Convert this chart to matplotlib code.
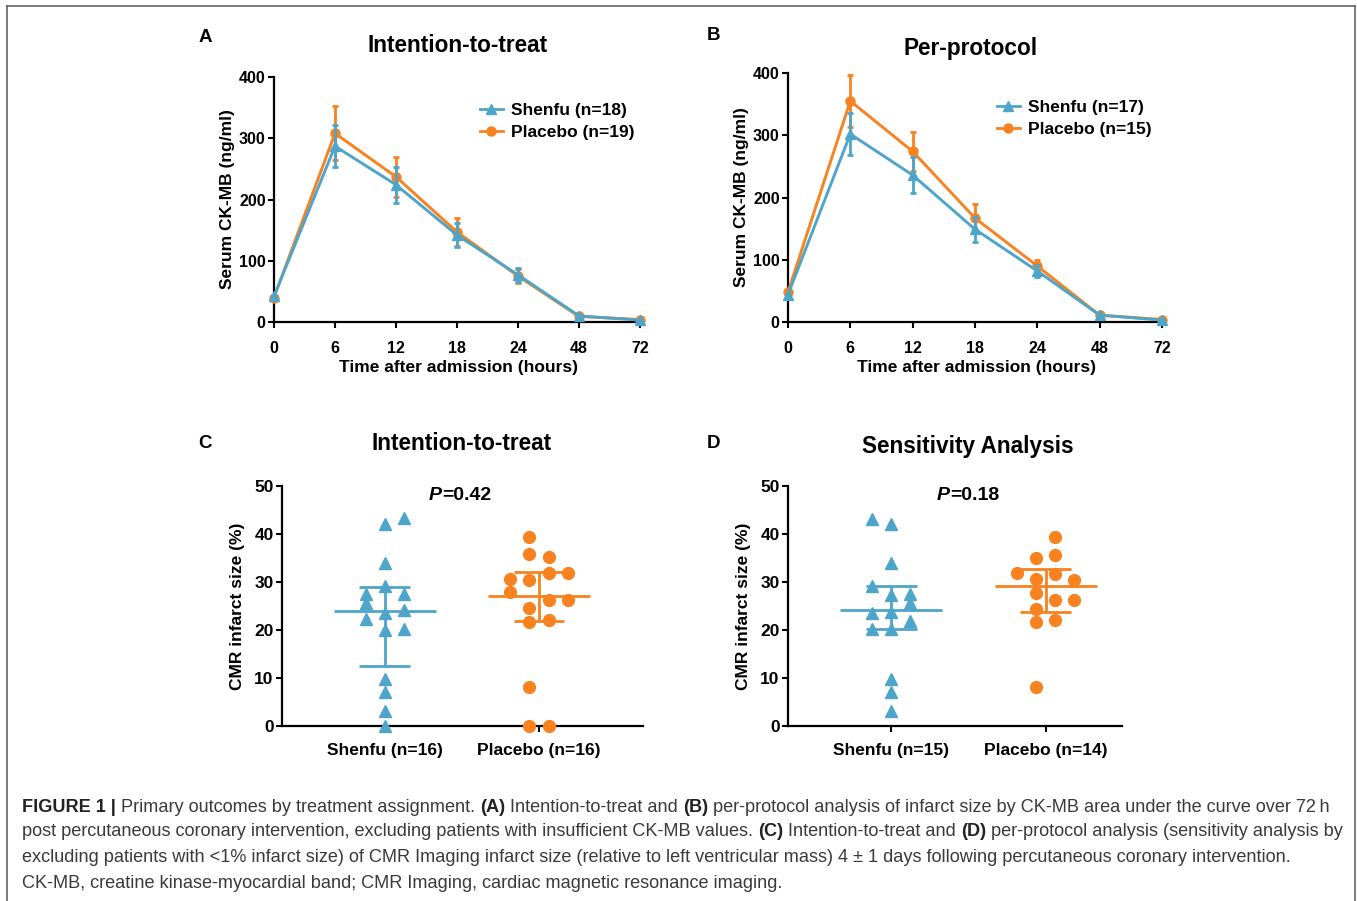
import numpy as np
import matplotlib
matplotlib.use('Agg')
import matplotlib.pyplot as plt
from matplotlib.lines import Line2D

W, H = 1357, 901
BLUE = '#4ea5ca'
ORANGE = '#f7821f'
FONT = 'Liberation Sans'

plt.rcParams['font.family'] = [FONT, 'DejaVu Sans']
plt.rcParams['font.weight'] = 'bold'

# ---- data: CK-MB time course ----
hours = ['0', '6', '12', '18', '24', '48', '72']

itt_shenfu = [42, 287, 224, 142, 77, 10, 3]
itt_shenfu_err = [0, 34, 29, 20, 11, 0, 0]
itt_placebo = [40, 308, 237, 147, 75, 9, 4]
itt_placebo_err = [0, 44, 33, 23, 12, 0, 0]

pp_shenfu = [44, 302, 236, 149, 82, 11, 3]
pp_shenfu_err = [0, 33, 29, 20, 10, 0, 0]
pp_placebo = [48, 355, 274, 167, 90, 11, 4]
pp_placebo_err = [0, 42, 32, 23, 9, 0, 0]

# ---- data: CMR infarct size ----
groups_c = ['Shenfu (n=16)', 'Placebo (n=16)']
itt_cmr_shenfu = [42.1, 43.3, 34.0, 29.2, 27.5, 27.5, 25.6, 24.2, 23.5, 22.2, 20.3, 20.1, 9.8, 7.1, 3.2, 0.0]
itt_cmr_shenfu_slot = [0, 1, 0, 0, -1, 1, -1, 1, 0, -1, 1, 0, 0, 0, 0, 0]
itt_cmr_placebo = [39.3, 35.8, 35.3, 31.9, 31.9, 30.6, 30.4, 27.9, 26.25, 26.25, 24.6, 21.7, 22.1, 8.2, 0.0, 0.0]
itt_cmr_placebo_slot = [-0.5, -0.5, 0.5, 0.5, 1.5, -1.5, -0.5, -1.5, 0.5, 1.5, -0.5, -0.5, 0.5, -0.5, -0.5, 0.5]
itt_median = [24.0, 27.0]
itt_q1 = [12.5, 21.9]
itt_q3 = [28.9, 32.0]

groups_d = ['Shenfu (n=15)', 'Placebo (n=14)']
sens_cmr_shenfu = [43.1, 42.0, 33.9, 29.2, 27.3, 27.4, 25.6, 23.5, 23.7, 21.9, 20.2, 20.2, 9.7, 7.0, 3.1]
sens_cmr_shenfu_slot = [-1, 0, 0, -1, 0, 1, 1, -1, 0, 1, -1, 0, 0, 0, 0]
sens_cmr_placebo = [39.3, 35.1, 35.7, 31.9, 31.7, 30.6, 30.4, 27.8, 26.2, 26.2, 24.4, 21.6, 22.0, 8.1]
sens_cmr_placebo_slot = [0.5, -0.5, 0.5, -1.5, 0.5, -0.5, 1.5, -0.5, 0.5, 1.5, -0.5, -0.5, 0.5, -0.5]
sens_median = [24.2, 29.1]
sens_q1 = [20.3, 23.8]
sens_q3 = [29.2, 32.8]

fig = plt.figure(figsize=(W / 100, H / 100), dpi=100)


def add_ax(l, r, t, b):
    return fig.add_axes([l / W, 1 - b / H, (r - l) / W, (b - t) / H])


def fx(x):
    return x / W


def fy(y):
    return 1 - y / H


def style_axis(ax):
    for s in ['top', 'right']:
        ax.spines[s].set_visible(False)
    for s in ['left', 'bottom']:
        ax.spines[s].set_linewidth(1.6)
    ax.tick_params(width=1.5, length=4.5, labelsize=11.5)
    for lab in ax.get_xticklabels() + ax.get_yticklabels():
        lab.set_fontweight('bold')


def time_panel(ax, sh, sh_err, pl, pl_err, n_sh, n_pl, ylabpad):
    x = np.arange(len(hours))
    ax.errorbar(x, pl, yerr=pl_err, color=ORANGE, lw=2.1, marker='o', ms=6.5,
                capsize=2.5, capthick=2, elinewidth=2, clip_on=False, zorder=3)
    ax.errorbar(x, sh, yerr=sh_err, color=BLUE, lw=2.1, marker='^', ms=6.5,
                capsize=2.5, capthick=2, elinewidth=2, clip_on=False, zorder=4)
    ax.set_xlim(0, 6.05)
    ax.set_ylim(0, 400)
    ax.set_xticks(x)
    ax.set_xticklabels(hours)
    ax.set_yticks([0, 100, 200, 300, 400])
    style_axis(ax)
    ax.tick_params(axis='x', pad=9)
    ax.tick_params(axis='y', pad=1.5)
    ax.set_xlabel('Time after admission (hours)', fontsize=12.5, fontweight='bold', labelpad=3)
    ax.set_ylabel('Serum CK-MB (ng/ml)', fontsize=12.5, fontweight='bold', labelpad=ylabpad)
    handles = [Line2D([], [], color=BLUE, lw=2, marker='^', ms=6.5),
               Line2D([], [], color=ORANGE, lw=2, marker='o', ms=6.5)]
    labels = [f'Shenfu (n={n_sh})', f'Placebo (n={n_pl})']
    return handles, labels


def cmr_panel(ax, groups, sh, sh_slot, pl, pl_slot, med, q1, q3, right):
    step = 0.125
    ax.plot(0 + np.array(sh_slot) * step, sh, ls='none', marker='^', ms=8.5,
            color=BLUE, clip_on=False, zorder=5)
    ax.plot(1 + np.array(pl_slot) * step, pl, ls='none', marker='o', ms=8.5,
            color=ORANGE, clip_on=False, zorder=5)
    for i, c in enumerate([BLUE, ORANGE]):
        ax.hlines(med[i], i - 0.33, i + 0.33, color=c, lw=2, zorder=4)
        ax.hlines([q1[i], q3[i]], i - 0.165, i + 0.165, color=c, lw=2, zorder=4)
        ax.vlines(i, q1[i], q3[i], color=c, lw=2, zorder=4)
    ax.set_xlim(-0.667, right)
    ax.set_ylim(0, 50)
    ax.set_xticks([0, 1])
    ax.set_xticklabels(groups)
    ax.set_yticks([0, 10, 20, 30, 40, 50])
    style_axis(ax)
    ax.tick_params(axis='x', pad=8, labelsize=12.5)
    ax.tick_params(axis='y', pad=1.5, labelsize=12.5)
    ax.set_ylabel('CMR infarct size (%)', fontsize=12.5, fontweight='bold', labelpad=6.5)


leg_kw = dict(loc='upper left', bbox_transform=fig.transFigure, frameon=False,
              handlelength=1.35, handletextpad=0.45, labelspacing=0.38, borderpad=0,
              prop={'weight': 'bold', 'size': 12.5})

# Panel A
axA = add_ax(274, 643, 77, 322)
h, l = time_panel(axA, itt_shenfu, itt_shenfu_err, itt_placebo, itt_placebo_err, 18, 19, 2.5)
axA.legend(h, l, bbox_to_anchor=(fx(471), fy(94)), **leg_kw)

# Panel B
axB = add_ax(788, 1165, 73, 322)
h, l = time_panel(axB, pp_shenfu, pp_shenfu_err, pp_placebo, pp_placebo_err, 17, 15, 2.5)
axB.legend(h, l, bbox_to_anchor=(fx(988), fy(91)), **leg_kw)

# Panel C
axC = add_ax(282, 643, 486, 726)
cmr_panel(axC, groups_c, itt_cmr_shenfu, itt_cmr_shenfu_slot, itt_cmr_placebo, itt_cmr_placebo_slot,
          itt_median, itt_q1, itt_q3, 1.675)

# Panel D
axD = add_ax(788, 1122, 486, 726)
cmr_panel(axD, groups_d, sens_cmr_shenfu, sens_cmr_shenfu_slot, sens_cmr_placebo, sens_cmr_placebo_slot,
          sens_median, sens_q1, sens_q3, 1.495)

# titles and panel letters
for x, y, s in [(458, 46, 'Intention-to-treat'), (971, 49, 'Per-protocol'),
                (462, 443, 'Intention-to-treat'), (968, 447, 'Sensitivity Analysis')]:
    fig.text(fx(x), fy(y), s, ha='center', va='center', fontsize=16.3, fontweight='bold')
for x, y, s in [(205, 37, 'A'), (714, 36, 'B'), (205, 443, 'C'), (714, 444, 'D')]:
    fig.text(fx(x), fy(y), s, ha='center', va='center', fontsize=13.5, fontweight='bold')

# P values
for xs, s in [(442, '=0.42'), (950, '=0.18')]:
    fig.text(fx(xs), fy(495), 'P', ha='right', va='center', fontsize=14, fontweight='bold', style='italic')
    fig.text(fx(xs), fy(495), s, ha='left', va='center', fontsize=14, fontweight='bold')

# border
for xs, ys in [([7, 7], [6, 901]), ([7, 1355], [6, 6]), ([1355, 1355], [6, 901])]:
    fig.add_artist(Line2D([fx(v) for v in xs], [fy(v) for v in ys], color='#666666', lw=1.2))

# caption
cap_fs = 13.1
r = fig.canvas.get_renderer()


def text_w(s, bold):
    t = fig.text(0, 0, s, fontsize=cap_fs, fontweight='bold' if bold else 'normal')
    w = t.get_window_extent(renderer=r).width
    t.remove()
    return w


space_w = text_w('a a', False) - text_w('aa', False)


def caption_line(y, segments, x0=22):
    x = x0
    for s, bold in segments:
        lead = len(s) - len(s.lstrip(' '))
        trail = len(s) - len(s.rstrip(' '))
        x += lead * space_w
        core = s.strip(' ')
        t = fig.text(fx(x), fy(y), core, fontsize=cap_fs, ha='left', va='center',
                     fontweight='bold' if bold else 'normal',
                     color='#222222' if bold else '#3a3a3a')
        x += t.get_window_extent(renderer=r).width + trail * space_w


caption_line(807, [('FIGURE 1 | ', True), ('Primary outcomes by treatment assignment. ', False), ('(A)', True),
                   (' Intention-to-treat and ', False), ('(B)', True),
                   (' per-protocol analysis of infarct size by CK-MB area under the curve over 72\u2009h', False)])
caption_line(832, [('post percutaneous coronary intervention, excluding patients with insufficient CK-MB values. ', False),
                   ('(C)', True), (' Intention-to-treat and ', False), ('(D)', True),
                   (' per-protocol analysis (sensitivity analysis by', False)])
caption_line(858, [('excluding patients with <1% infarct size) of CMR Imaging infarct size (relative to left ventricular mass) 4 \u00b1 1 days following percutaneous coronary intervention.', False)])
caption_line(883, [('CK-MB, creatine kinase-myocardial band; CMR Imaging, cardiac magnetic resonance imaging.', False)])

fig.savefig('out.png', dpi=100)
